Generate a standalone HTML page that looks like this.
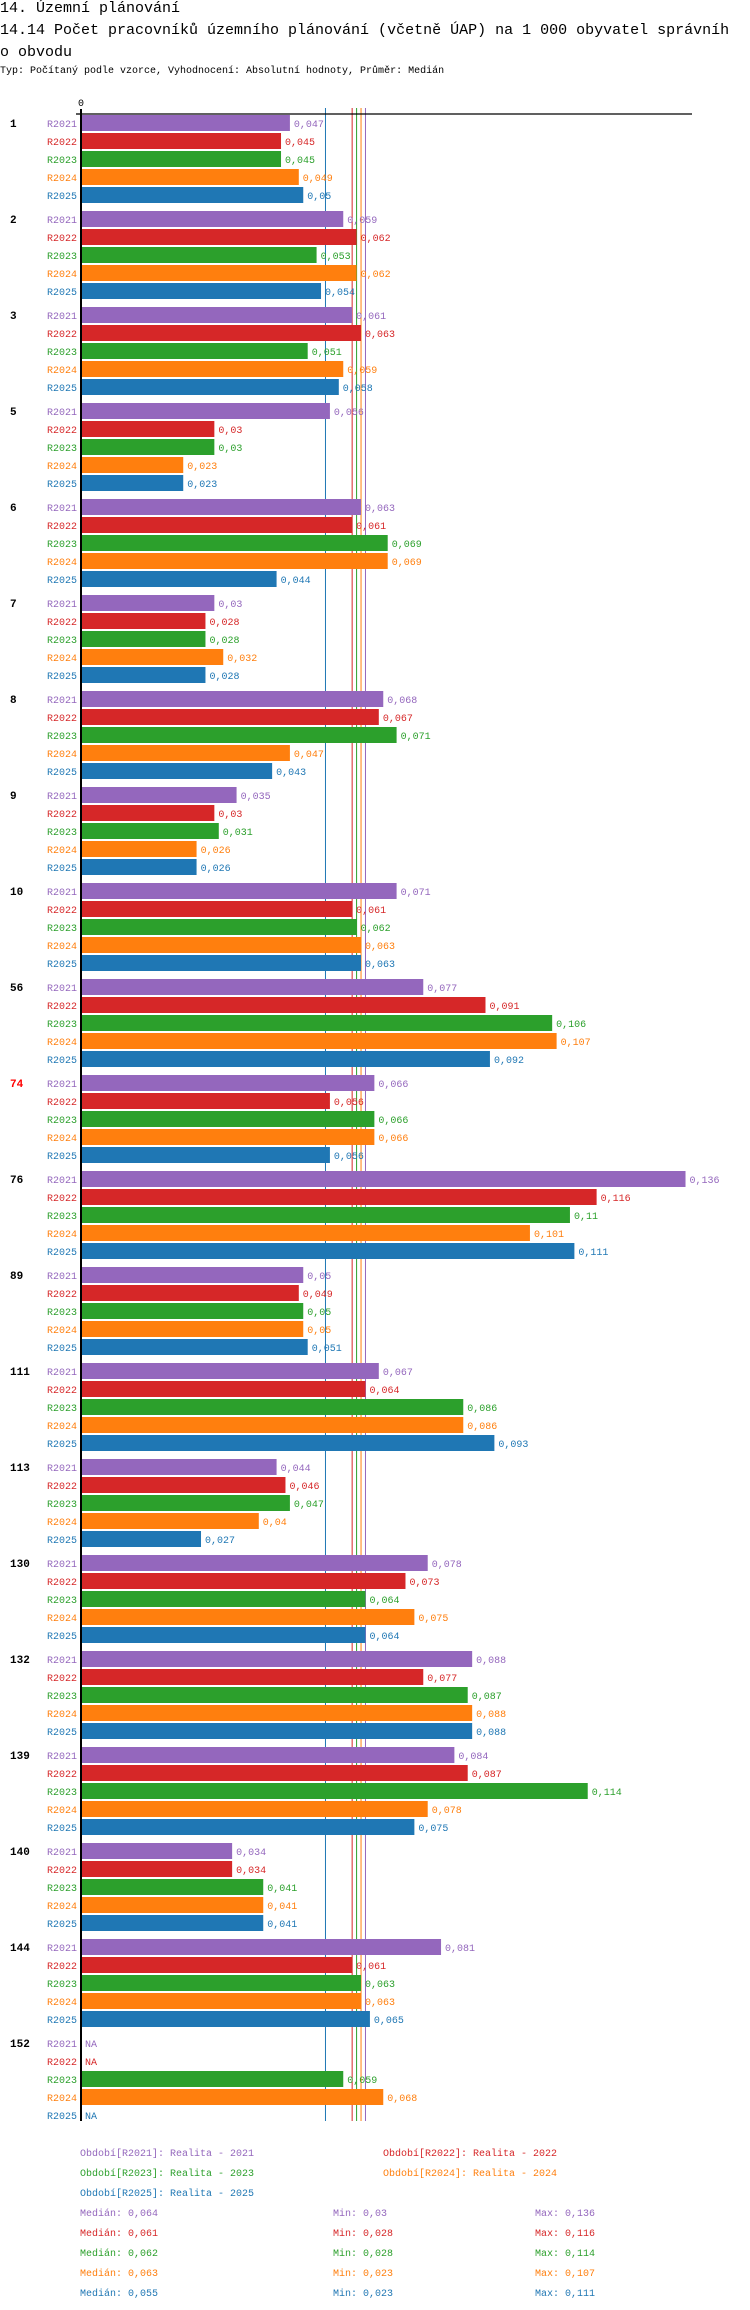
<!DOCTYPE html>
<html><head><meta charset="utf-8">
<style>
body{margin:0;background:#fff;width:750px;height:2310px;overflow:hidden;font-family:"Liberation Mono",monospace;}
.t{position:absolute;left:0;font-size:15px;color:#000;white-space:nowrap;}
.s{position:absolute;left:0;top:66px;font-size:10px;white-space:nowrap;}
</style></head><body>
<div class="t" style="top:0px">14. Územní plánování</div>
<div class="t" style="top:22px">14.14 Počet pracovníků územního plánování (včetně ÚAP) na 1 000 obyvatel správníh</div>
<div class="t" style="top:44px">o obvodu</div>
<div class="s">Typ: Počítaný podle vzorce, Vyhodnocení: Absolutní hodnoty, Průměr: Medián</div>
<svg id="c" width="750" height="2310" style="position:absolute;left:0;top:0" xmlns="http://www.w3.org/2000/svg"></svg>
<script>
const groups=["1","2","3","5","6","7","8","9","10","56","74","76","89","111","113","130","132","139","140","144","152"];
const series=["R2021","R2022","R2023","R2024","R2025"];
const v2021=[0.047,0.059,0.061,0.056,0.063,0.03,0.068,0.035,0.071,0.077,0.066,0.136,0.05,0.067,0.044,0.078,0.088,0.084,0.034,0.081,null];
const v2022=[0.045,0.062,0.063,0.03,0.061,0.028,0.067,0.03,0.061,0.091,0.056,0.116,0.049,0.064,0.046,0.073,0.077,0.087,0.034,0.061,null];
const v2023=[0.045,0.053,0.051,0.03,0.069,0.028,0.071,0.031,0.062,0.106,0.066,0.11,0.05,0.086,0.047,0.064,0.087,0.114,0.041,0.063,0.059];
const v2024=[0.049,0.062,0.059,0.023,0.069,0.032,0.047,0.026,0.063,0.107,0.066,0.101,0.05,0.086,0.04,0.075,0.088,0.078,0.041,0.063,0.068];
const v2025=[0.05,0.054,0.058,0.023,0.044,0.028,0.043,0.026,0.063,0.092,0.056,0.111,0.051,0.093,0.027,0.064,0.088,0.075,0.041,0.065,null];
const medians=[0.064,0.061,0.062,0.063,0.055];
const mins=[0.03,0.028,0.028,0.023,0.023];
const maxs=[0.136,0.116,0.114,0.107,0.111];
const legendNames=["Realita - 2021","Realita - 2022","Realita - 2023","Realita - 2024","Realita - 2025"];
const highlightGroup="74";
const vals=[v2021,v2022,v2023,v2024,v2025];
const colors=["#9467bd","#d62728","#2ca02c","#ff7f0e","#1f77b4"];
const X0=81,K=4445,Y0=115,GP=96,BP=18,BH=16;
const x=v=>X0+v*K;
const yG=g=>Y0+g*GP;
const svg=document.getElementById('c');
const NS="http://www.w3.org/2000/svg";
function mk(t,a){const e=document.createElementNS(NS,t);for(const k in a)e.setAttribute(k,a[k]);svg.appendChild(e);return e;}
const fmt=v=>String(v).replace('.',',');
const bottom=yG(groups.length-1)+5*BP-4;
// median lines
medians.forEach((m,i)=>{const l=mk('line',{x1:x(m),x2:x(m),y1:108,y2:bottom,stroke:colors[i],'stroke-width':1});

});
groups.forEach((g,gi)=>{
  const gy=yG(gi);
  const gl=mk('text',{x:10,y:gy+12,'font-size':11,'font-weight':'bold',fill:g===highlightGroup?'#ff0000':'#000','font-family':'Liberation Mono, monospace'});
  gl.textContent=g;
  
  
  series.forEach((s,si)=>{
    const by=gy+si*BP;const v=vals[si][gi];
    const sl=mk('text',{x:77,y:by+12,'font-size':10,fill:colors[si],'text-anchor':'end','font-family':'Liberation Mono, monospace'});
    sl.textContent=s;
    
    
    if(v===null){
      const na=mk('text',{x:85,y:by+12,'font-size':10,fill:colors[si],'font-family':'Liberation Mono, monospace'});
      na.textContent='NA';
      
      
      return;
    }
    const r=mk('rect',{x:X0,y:by,width:x(v)-X0,height:BH,fill:colors[si]});
    
    
    const vl=mk('text',{x:x(v)+4,y:by+12,'font-size':10,fill:colors[si],'font-family':'Liberation Mono, monospace'});
    vl.textContent=fmt(v);
    
    
  });
});
// axes
const ax=mk('line',{x1:X0,x2:692,y1:114,y2:114,stroke:'#000','stroke-width':1.3});


const ay=mk('line',{x1:X0,x2:X0,y1:109,y2:bottom,stroke:'#000','stroke-width':2});


const tk=mk('line',{x1:76,x2:X0,y1:114,y2:114,stroke:'#000','stroke-width':1.3});


const t0=mk('text',{x:X0,y:106,'font-size':10,'text-anchor':'middle','font-family':'Liberation Mono, monospace'});
t0.textContent='0';


// legend
const lpos=[[80,2156],[383,2156],[80,2176],[383,2176],[80,2196]];
series.forEach((s,i)=>{
  const t=mk('text',{x:lpos[i][0],y:lpos[i][1],'font-size':10,fill:colors[i],'font-family':'Liberation Mono, monospace'});
  t.textContent='Období['+s+']: '+legendNames[i];
  
  
  const y=2216+i*20;
  [[80,'Medián: '+fmt(medians[i]),'median'],[333,'Min: '+fmt(mins[i]),'min'],[535,'Max: '+fmt(maxs[i]),'max']].forEach(d=>{
    const e=mk('text',{x:d[0],y:y,'font-size':10,fill:colors[i],'font-family':'Liberation Mono, monospace'});
    e.textContent=d[1];
    
    
  });
});
</script>
</body></html>
